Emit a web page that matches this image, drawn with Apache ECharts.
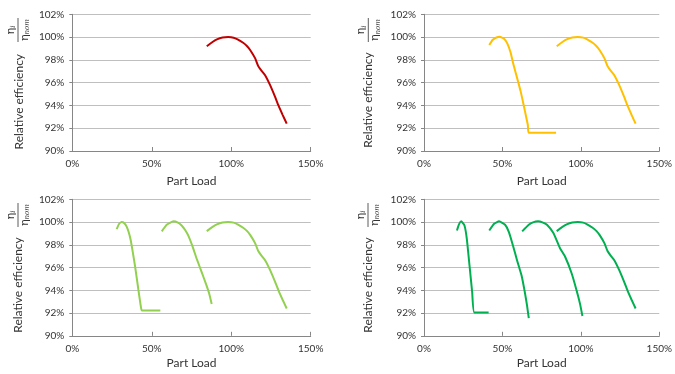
<!DOCTYPE html>
<html>
<head>
<meta charset="utf-8">
<title>Relative efficiency vs part load</title>
<script src="https://cdn.jsdelivr.net/npm/echarts@6/dist/echarts.min.js"></script>
<style>
  html, body { margin: 0; padding: 0; background: #ffffff; }
  #chart { width: 675px; height: 374px; }
</style>
</head>
<body>
<div id="chart"></div>
<script>
// Axis ticks (part load in %, relative efficiency in %)
const loadTicks = [0, 50, 100, 150];
const effTicks = [90, 92, 94, 96, 98, 100, 102];

// One unit sized for nominal load (used in every configuration)
const unitFull = [[84.6, 99.2], [88, 99.55], [91, 99.8], [94.5, 99.96], [98, 100], [101.5, 99.95],
  [104, 99.8], [107.5, 99.5], [110, 99.2], [112, 98.85], [115, 98.15], [117, 97.45], [119, 97.05],
  [121.3, 96.65], [124.4, 95.8], [127.6, 94.75], [129.7, 94.0], [132.4, 93.15], [134.9, 92.4]];

// Two units: small unit curve, then its hold level until the big unit takes over
const twoUnitsSmall = [[41.6, 99.3], [43.7, 99.74], [45.8, 99.94], [48.3, 100.03], [51.0, 99.86],
  [53.1, 99.45], [55.2, 98.64], [56.7, 97.77], [58.4, 96.9], [61.5, 95.3], [63.6, 94.0],
  [65.1, 93.0], [66.2, 92.28], [66.8, 91.6], [84.2, 91.6]];

// Three units
const threeUnitsA = [[27.9, 99.38], [29.5, 99.85], [31.1, 100], [32.7, 99.9], [34.2, 99.6],
  [35.5, 99.1], [36.7, 98.44], [38, 97.4], [39.5, 96.1], [41.6, 94.03], [43.0, 92.7],
  [43.8, 92.22], [55.4, 92.22]];
const threeUnitsB = [[56.3, 99.18], [59.4, 99.76], [63.6, 100.06], [66.5, 99.95], [68.8, 99.7],
  [71, 99.3], [73.0, 98.8], [75.8, 97.8], [78.3, 96.76], [81.4, 95.6], [84.1, 94.56],
  [86.2, 93.68], [87.7, 92.8]];

// Four units
const fourUnitsA = [[21.0, 99.26], [22.3, 99.8], [23.7, 100.06], [25.8, 99.7], [27.3, 98.53],
  [29.0, 96.2], [30.7, 93.85], [32.1, 92.05], [41.2, 92.05]];
const fourUnitsB = [[41.6, 99.26], [44.7, 99.85], [47.9, 100.06], [51.7, 99.76], [54.2, 99.1],
  [56.7, 97.94], [59.4, 96.6], [62.2, 95.3], [64.3, 93.82], [65.7, 92.65], [66.8, 91.55]];
const fourUnitsC = [[62.6, 99.18], [66.8, 99.76], [69.5, 99.97], [72.7, 100.06], [75.5, 99.97],
  [78.4, 99.76], [82.5, 99.03], [86.7, 97.7], [89.9, 96.97], [94.1, 95.5], [97.2, 94.03],
  [99.4, 92.85], [101.0, 91.74]];

const panelSeries = [
  { color: '#C00000', curves: [unitFull] },
  { color: '#FFC000', curves: [twoUnitsSmall, unitFull] },
  { color: '#92D050', curves: [threeUnitsA, threeUnitsB, unitFull] },
  { color: '#00B050', curves: [fourUnitsA, fourUnitsB, fourUnitsC, unitFull] }
];

// Panel placement
const panels = [
  { left: 72.3, top: 14.3, width: 238.4, height: 136.7, nameGap: 24, labelX: 19, labelY: 101.7, fracX: 18, fracY: 30 },
  { left: 424, top: 14.3, width: 238, height: 136.7, nameGap: 24, labelX: 368.3, labelY: 100, fracX: 368.3, fracY: 30 },
  { left: 72.3, top: 199.3, width: 238.4, height: 136.5, nameGap: 21, labelX: 18.3, labelY: 285, fracX: 18, fracY: 215 },
  { left: 424, top: 199.3, width: 238, height: 136.5, nameGap: 21, labelX: 368, labelY: 285, fracX: 368, fracY: 215 }
];

const FONT = 'Lato, "Liberation Sans", sans-serif';
const TEXT = '#333333';
const AXIS = '#868686';
const GRID = '#BFBFBF';

const grids = [], xAxes = [], yAxes = [], series = [], graphics = [];

const fracRich = {
  e: { fontFamily: '"DejaVu Serif", serif', fontSize: 11, fill: TEXT },
  s: { fontFamily: '"DejaVu Serif", serif', fontStyle: 'italic', fontSize: 7, fill: TEXT, padding: [5, 0, 0, 0] }
};

panels.forEach((p, i) => {
  grids.push({ left: p.left, top: p.top, width: p.width, height: p.height, containLabel: false });
  xAxes.push({
    type: 'value', gridIndex: i,
    min: loadTicks[0], max: loadTicks[loadTicks.length - 1], interval: loadTicks[1] - loadTicks[0],
    name: 'Part Load', nameLocation: 'middle', nameGap: p.nameGap,
    nameTextStyle: { fontFamily: FONT, fontSize: 12, color: TEXT },
    axisLine: { show: true, lineStyle: { color: AXIS, width: 1 } },
    axisTick: { show: true, inside: true, length: 4, lineStyle: { color: AXIS } },
    axisLabel: { formatter: '{value}%', fontFamily: FONT, fontSize: 10, color: TEXT, margin: 8 },
    splitLine: { show: false }
  });
  yAxes.push({
    type: 'value', gridIndex: i,
    min: effTicks[0], max: effTicks[effTicks.length - 1], interval: effTicks[1] - effTicks[0],
    axisLine: { show: true, lineStyle: { color: AXIS, width: 1 } },
    axisTick: { show: true, inside: false, length: 3, lineStyle: { color: AXIS } },
    axisLabel: { formatter: '{value}%', fontFamily: FONT, fontSize: 10, color: TEXT, margin: 8 },
    splitLine: { show: true, lineStyle: { color: GRID, width: 1 } }
  });

  panelSeries[i].curves.forEach((curve) => {
    series.push({
      type: 'line', xAxisIndex: i, yAxisIndex: i,
      data: curve, showSymbol: false, smooth: 0.15,
      lineStyle: { color: panelSeries[i].color, width: 2 },
      itemStyle: { color: panelSeries[i].color },
      animation: false, silent: true
    });
  });

  // Rotated y-axis title
  graphics.push({
    type: 'text', x: p.labelX, y: p.labelY, rotation: Math.PI / 2,
    style: { text: 'Relative efficiency', fontFamily: FONT, fontSize: 12, fill: TEXT, align: 'center', verticalAlign: 'middle' }
  });
  // Rotated fraction  η_i / η_nom
  graphics.push({
    type: 'group', x: p.fracX, y: p.fracY, rotation: Math.PI / 2,
    children: [
      { type: 'line', shape: { x1: -12, y1: 0, x2: 12, y2: 0 }, style: { stroke: TEXT, lineWidth: 0.8 } },
      { type: 'text', x: 0, y: -1, style: { text: '{e|η}{s|i}', align: 'center', verticalAlign: 'bottom', rich: fracRich } },
      { type: 'text', x: 0, y: 1, style: { text: '{e|η}{s|nom}', align: 'center', verticalAlign: 'top', rich: fracRich } }
    ]
  });
});

const chart = echarts.init(document.getElementById('chart'), null, { renderer: 'canvas' });
chart.setOption({
  backgroundColor: '#ffffff',
  animation: false,
  grid: grids,
  xAxis: xAxes,
  yAxis: yAxes,
  series: series,
  graphic: graphics
});
</script>
</body>
</html>
